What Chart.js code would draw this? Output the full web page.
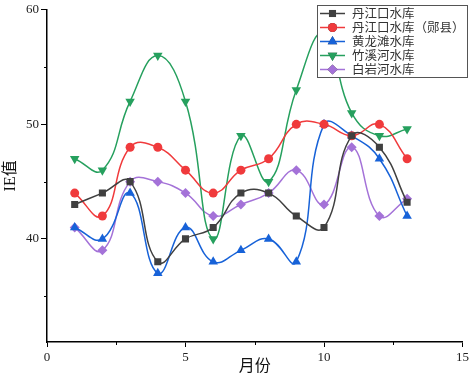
<!DOCTYPE html>
<html>
<head>
<meta charset="utf-8">
<script src="https://cdn.jsdelivr.net/npm/chart.js@4"></script>
<style>
  body { margin: 0; background: #fff; }
  #wrap { width: 472px; height: 382px; }
</style>
</head>
<body>
<div id="wrap"><canvas id="ieChart" width="472" height="382"></canvas></div>
<script>
// Data
const months = [1, 2, 3, 4, 5, 6, 7, 8, 9, 10, 11, 12, 13];
const seriesNames = ['丹江口水库', '丹江口水库（郧县）', '黄龙滩水库', '竹溪河水库', '白岩河水库'];
const danjiangkou = [43, 44, 45, 38, 40, 41, 44, 44, 42, 41, 49, 48, 43.2];
const danjiangkouYunxian = [44, 42, 48, 48, 46, 44, 46, 47, 50, 50, 49, 50, 47];
const huanglongtan = [41, 40, 44, 37, 41, 38, 39, 40, 38, 50, 49, 47, 42];
const zhuxihe = [47, 46, 52, 56, 52, 40, 49, 45, 53, 58, 51, 49, 49.6];
const baiyanhe = [41, 39, 45, 45, 44, 42, 43, 44, 46, 43, 48, 42, 43.5];

const xTicks = [0, 5, 10, 15];
const yTicks = [40, 50, 60];

const COLORS = ['#404040', '#f03a3c', '#1762d8', '#26a05e', '#a472d8'];
const STYLES = ['rect', 'circle', 'triangle', 'triangle', 'rectRot'];
const ROTATIONS = [0, 0, 0, 180, 0];
const RADII = [5, 4.5, 5.5, 5.5, 5];
const allSeries = [danjiangkou, danjiangkouYunxian, huanglongtan, zhuxihe, baiyanhe];

const SERIF = '"Liberation Serif", "DejaVu Serif", serif';
const CJK = '"Liberation Serif", "Noto Sans CJK SC", serif';

const datasets = allSeries.map((vals, i) => ({
    label: seriesNames[i],
    data: vals.map((v, j) => ({ x: months[j], y: v })),
    borderColor: COLORS[i],
    backgroundColor: COLORS[i],
    borderWidth: 1.5,
    pointStyle: STYLES[i],
    pointRotation: ROTATIONS[i],
    pointRadius: RADII[i],
    pointBorderWidth: 0,
    tension: 0.45,
    fill: false
}));

// minor ticks between major ones, shorter, outward
const minorTicks = {
    id: 'minorTicks',
    afterDraw(chart) {
        const ctx = chart.ctx;
        const xs = chart.scales.x, ys = chart.scales.y;
        ctx.save();
        ctx.strokeStyle = '#000';
        ctx.lineWidth = 1;
        [2.5, 7.5, 12.5].forEach(v => {
            const px = Math.round(xs.getPixelForValue(v)) + 0.5;
            ctx.beginPath();
            ctx.moveTo(px, ys.bottom);
            ctx.lineTo(px, ys.bottom + 3);
            ctx.stroke();
        });
        [35, 45, 55].forEach(v => {
            const py = Math.round(ys.getPixelForValue(v)) + 0.5;
            ctx.beginPath();
            ctx.moveTo(xs.left, py);
            ctx.lineTo(xs.left - 3, py);
            ctx.stroke();
        });
        ctx.restore();
    }
};

// boxed legend inside the top right corner
const boxLegend = {
    id: 'boxLegend',
    afterDraw(chart) {
        const ctx = chart.ctx;
        const bx = 317, by = 5, bw = 150, bh = 72;
        ctx.save();
        ctx.fillStyle = '#fff';
        ctx.fillRect(bx, by, bw, bh);
        ctx.strokeStyle = '#555';
        ctx.lineWidth = 1;
        ctx.strokeRect(bx + 0.5, by + 0.5, bw, bh);
        chart.data.datasets.forEach((ds, i) => {
            const y = 13.5 + i * 14;
            ctx.strokeStyle = ds.borderColor;
            ctx.lineWidth = 1.5;
            ctx.beginPath();
            ctx.moveTo(320, y);
            ctx.lineTo(345, y);
            ctx.stroke();
            Chart.helpers.drawPoint(ctx, {
                pointStyle: ds.pointStyle,
                rotation: ds.pointRotation,
                radius: ds.pointRadius,
                borderWidth: 0
            }, 332.5, y);
            ctx.fillStyle = ds.backgroundColor;
            ctx.fill();
            ctx.fillStyle = '#333';
            ctx.font = '12.5px ' + CJK;
            ctx.textBaseline = 'middle';
            ctx.fillText(ds.label, 352, y + 1);
        });
        ctx.restore();
    }
};

new Chart(document.getElementById('ieChart'), {
    type: 'line',
    data: { datasets },
    options: {
        responsive: false,
        animation: false,
        layout: { padding: { top: 5, right: 9, left: 0, bottom: 0 } },
        plugins: {
            legend: { display: false },
            tooltip: { enabled: false }
        },
        scales: {
            x: {
                type: 'linear',
                min: 0,
                max: 15,
                afterBuildTicks: s => { s.ticks = xTicks.map(v => ({ value: v })); },
                afterFit: s => { s.height = 40; },
                grid: { drawOnChartArea: false, drawTicks: true, tickLength: 5, color: '#000' },
                border: { color: '#000', width: 1.5 },
                ticks: { color: '#222', font: { family: SERIF, size: 13 }, padding: 3 },
                title: {
                    display: true, text: '月份', color: '#111',
                    font: { family: CJK, size: 16 }, padding: { top: 0, bottom: 6 }
                }
            },
            y: {
                type: 'linear',
                min: 31,
                max: 60,
                afterBuildTicks: s => { s.ticks = yTicks.map(v => ({ value: v })); },
                afterFit: s => { s.width = 47; },
                grid: { drawOnChartArea: false, drawTicks: true, tickLength: 6, color: '#000' },
                border: { color: '#000', width: 1.5 },
                ticks: { color: '#222', font: { family: SERIF, size: 13 }, padding: 2 },
                title: {
                    display: true, text: 'IE值', color: '#111',
                    font: { family: CJK, size: 16 }, padding: { top: 1, bottom: 0 }
                }
            }
        }
    },
    plugins: [minorTicks, boxLegend]
});
</script>
</body>
</html>
